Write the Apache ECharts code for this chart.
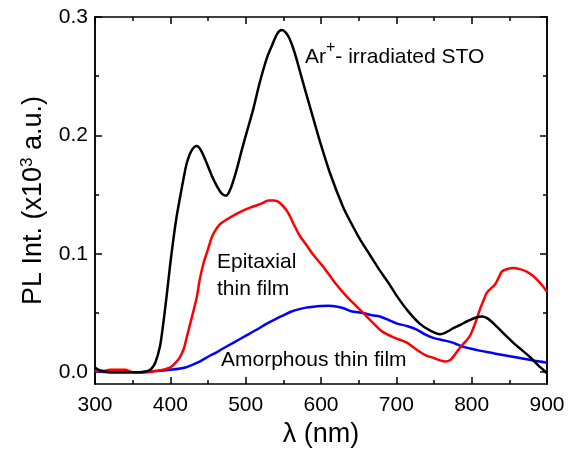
<!DOCTYPE html>
<html><head><meta charset="utf-8">
<script src="https://cdn.jsdelivr.net/npm/echarts@6/dist/echarts.min.js"></script>
<style>html,body{margin:0;padding:0;background:#fff}#c{width:574px;height:453px}</style>
</head><body><div id="c"></div>
<script>
const xTicks = [300, 400, 500, 600, 700, 800, 900];
const yTicks = [0, 0.1, 0.2, 0.3];
const yMinor = [0.05, 0.15, 0.25];

const arIrradiated = [
[300,0.004],[305,0.002],[310,0.001],[320,0.0],[340,0.0],[360,0.0],[370,0.001],[375,0.003],[380,0.008],[386,0.021],[390,0.038],[395,0.064],[400,0.092],[404,0.112],[408,0.13],[413,0.148],[418,0.165],[422,0.177],[428,0.187],[435,0.191],[441,0.187],[448,0.177],[455,0.166],[462,0.157],[468,0.151],[474,0.149],[480,0.155],[488,0.171],[495,0.188],[502,0.204],[510,0.222],[518,0.243],[528,0.265],[535,0.276],[542,0.286],[548,0.289],[553,0.287],[558,0.282],[565,0.27],[576,0.245],[589,0.216],[599,0.194],[612,0.168],[629,0.14],[640,0.126],[652,0.112],[665,0.099],[678,0.086],[690,0.075],[701,0.064],[715,0.052],[731,0.041],[745,0.035],[758,0.032],[767,0.034],[775,0.037],[785,0.040],[794,0.043],[805,0.046],[814,0.047],[822,0.045],[834,0.038],[845,0.031],[855,0.025],[866,0.019],[877,0.013],[888,0.006],[895,0.002],[900,-0.001]
];
const epitaxial = [
[300,0.001],[310,0.001],[320,0.002],[330,0.002],[340,0.002],[350,0.0],[360,0.0],[370,0.0],[380,0.001],[390,0.002],[400,0.004],[407,0.008],[413,0.013],[418,0.02],[422,0.03],[426,0.04],[430,0.05],[435,0.063],[439,0.078],[444,0.092],[448,0.1],[452,0.108],[455,0.114],[460,0.12],[466,0.125],[475,0.129],[483,0.132],[495,0.136],[506,0.139],[515,0.141],[523,0.143],[530,0.145],[537,0.145],[543,0.144],[550,0.14],[557,0.134],[563,0.126],[572,0.115],[580,0.108],[590,0.099],[603,0.089],[618,0.076],[634,0.064],[645,0.057],[656,0.05],[670,0.041],[682,0.034],[698,0.029],[714,0.025],[727,0.019],[740,0.014],[750,0.012],[758,0.01],[765,0.009],[771,0.01],[778,0.015],[785,0.021],[792,0.026],[798,0.031],[805,0.042],[811,0.053],[816,0.061],[820,0.067],[826,0.071],[831,0.074],[836,0.08],[840,0.085],[847,0.087],[855,0.088],[864,0.087],[873,0.085],[880,0.082],[887,0.078],[894,0.073],[900,0.068]
];
const amorphous = [
[300,0.001],[320,0.0],[340,0.0],[360,0.0],[380,0.001],[400,0.002],[420,0.004],[439,0.009],[450,0.013],[462,0.017],[470,0.02],[484,0.025],[501,0.031],[515,0.036],[528,0.041],[537,0.044],[550,0.048],[560,0.051],[570,0.053],[580,0.0545],[590,0.0553],[600,0.0558],[610,0.056],[620,0.0555],[630,0.054],[640,0.0515],[656,0.05],[668,0.048],[678,0.047],[690,0.044],[701,0.041],[714,0.039],[727,0.036],[738,0.032],[749,0.029],[762,0.027],[775,0.025],[786,0.022],[798,0.02],[812,0.018],[829,0.016],[845,0.014],[864,0.012],[880,0.01],[900,0.008]
];

const FONT = 'Liberation Sans, Arial, sans-serif';
const lineStyle = {color:'#000', width:1.5};
const chart = echarts.init(document.getElementById('c'));

function yAx(pos, vals, len, labels, extra) {
  return Object.assign({
    type:'value', position:pos, min:-0.01, max:0.3,
    axisLine:{show:true, onZero:false, lineStyle},
    axisTick:{show:true, inside:true, length:len, lineStyle, customValues:vals},
    axisLabel:{show:labels, customValues:vals, fontFamily:FONT, fontSize:21, color:'#000', margin:7,
      formatter: v => v.toFixed(1)},
    splitLine:{show:false}
  }, extra||{});
}
function xAx(pos, labels, extra) {
  return Object.assign({
    type:'value', position:pos, min:300, max:900, interval:100,
    axisLine:{show:true, onZero:false, lineStyle},
    axisTick:{show:true, inside:true, length:7, lineStyle},
    minorTick:{show:true, splitNumber:2, length:4, lineStyle},
    axisLabel:{show:labels, fontFamily:FONT, fontSize:21, color:'#000', margin:11},
    splitLine:{show:false}, minorSplitLine:{show:false}
  }, extra||{});
}

chart.setOption({
  animation:false,
  grid:{left:95, right:27, top:17, bottom:69},
  xAxis:[
    xAx('bottom', true, {name:'λ (nm)', nameLocation:'middle', nameGap:35,
      nameTextStyle:{fontFamily:FONT, fontSize:27, color:'#000'}}),
    xAx('top', false)
  ],
  yAxis:[
    yAx('left', yTicks, 7, true, {
      name:'{a|PL Int. (x10}{s|3}{a| a.u.)}', nameLocation:'middle', nameGap:47, nameRotate:90,
      nameTextStyle:{rich:{
        a:{fontFamily:FONT, fontSize:27, color:'#000'},
        s:{fontFamily:FONT, fontSize:17, color:'#000', verticalAlign:'top', padding:[0,0,12,0]}
      }}
    }),
    yAx('left', yMinor, 4, false),
    yAx('right', yTicks, 7, false),
    yAx('right', yMinor, 4, false)
  ],
  series:[
    {type:'line', data:arIrradiated, showSymbol:false, smooth:0.3, lineStyle:{color:'#000', width:2.5}, itemStyle:{color:'#000'}, z:3},
    {type:'line', data:epitaxial, showSymbol:false, smooth:0.3, lineStyle:{color:'#ff0000', width:2.5}, itemStyle:{color:'#ff0000'}, z:2},
    {type:'line', data:amorphous, showSymbol:false, smooth:0.3, lineStyle:{color:'#0000ff', width:2.5}, itemStyle:{color:'#0000ff'}, z:1}
  ],
  graphic:[
    {type:'text', left:305, top:40, style:{
      text:'{a|Ar}{s|+}{a|- irradiated STO}',
      rich:{
        a:{fontFamily:FONT, fontSize:21, fill:'#000', padding:[6,0,0,0]},
        s:{fontFamily:FONT, fontSize:16, fill:'#000', verticalAlign:'top', padding:[0,0,12,0]}
      }}},
    {type:'text', left:217, top:249, style:{text:'Epitaxial\nthin film', fontFamily:FONT, fontSize:21, lineHeight:27, fill:'#000'}},
    {type:'text', left:221, top:350, style:{text:'Amorphous thin film', fontFamily:FONT, fontSize:21, fill:'#000'}}
  ]
});
</script></body></html>
